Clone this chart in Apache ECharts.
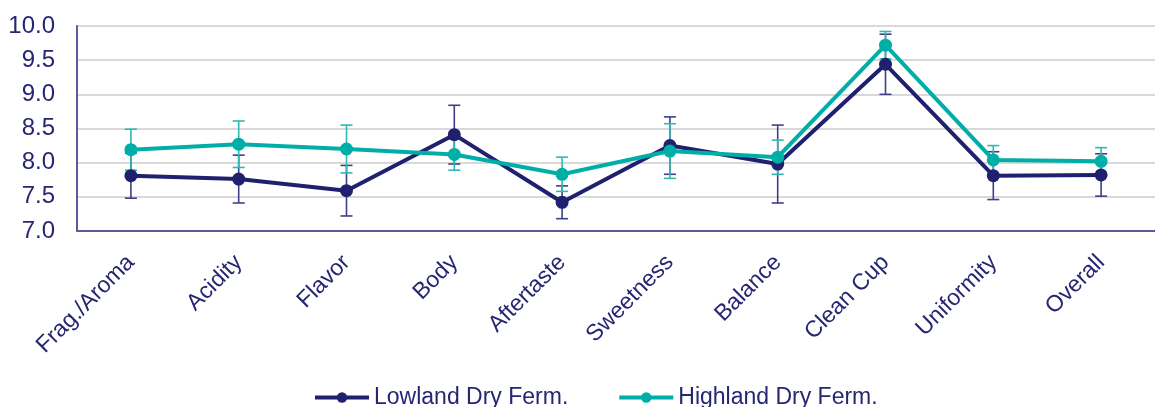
<!DOCTYPE html>
<html>
<head>
<meta charset="utf-8">
<script src="https://cdn.jsdelivr.net/npm/echarts@6/dist/echarts.min.js"></script>
<style>
html,body{margin:0;padding:0;background:#fff;}
#c{width:1155px;height:407px;}
</style>
</head>
<body>
<div id="c"></div>
<script>
var categories = ['Frag./Aroma','Acidity','Flavor','Body','Aftertaste','Sweetness','Balance','Clean Cup','Uniformity','Overall'];
var lowlandMean = [7.81, 7.76, 7.59, 8.41, 7.42, 8.25, 7.98, 9.44, 7.81, 7.82];
var lowlandErr  = [0.33, 0.35, 0.37, 0.43, 0.24, 0.42, 0.57, 0.44, 0.35, 0.31];
var highlandMean = [8.19, 8.27, 8.20, 8.12, 7.83, 8.17, 8.08, 9.72, 8.04, 8.02];
var highlandErr  = [0.30, 0.34, 0.35, 0.23, 0.25, 0.40, 0.25, 0.20, 0.21, 0.20];
var yTicks = [7.0, 7.5, 8.0, 8.5, 9.0, 9.5, 10.0];
var seriesNames = ['Lowland Dry Ferm.', 'Highland Dry Ferm.'];

var NAVY = '#1f216e';
var TEAL = '#00aea8';
var NAVY_ERR = '#3f4085';
var TEAL_ERR = '#2fb9b3';
var TEXT = '#262672';
var FONT = 'Liberation Sans, Arial, sans-serif';

function errData(mean, err){
  return mean.map(function(m,i){ return [i, m - err[i], m + err[i]]; });
}
function errSeries(mean, err, color){
  return {
    type: 'custom',
    z: 1,
    silent: true,
    data: errData(mean, err),
    renderItem: function(params, api){
      var x = api.value(0);
      var lo = api.coord([x, api.value(1)]);
      var hi = api.coord([x, api.value(2)]);
      var hw = 6;
      var st = {stroke: color, lineWidth: 1.6};
      return {
        type: 'group',
        children: [
          {type:'line', shape:{x1:lo[0], y1:lo[1], x2:hi[0], y2:hi[1]}, style: st},
          {type:'line', shape:{x1:lo[0]-hw, y1:lo[1], x2:lo[0]+hw, y2:lo[1]}, style: st},
          {type:'line', shape:{x1:hi[0]-hw, y1:hi[1], x2:hi[0]+hw, y2:hi[1]}, style: st}
        ]
      };
    }
  };
}

var chart = echarts.init(document.getElementById('c'), null, {renderer:'canvas'});
chart.setOption({
  animation: false,
  backgroundColor: '#ffffff',
  textStyle: {fontFamily: FONT},
  grid: {left: 77, right: -11, top: 26, bottom: 176, containLabel: false},
  xAxis: {
    type: 'category',
    data: categories,
    boundaryGap: true,
    axisLine: {show: true, lineStyle: {color: '#5b5c97', width: 2}},
    axisTick: {show: false},
    splitLine: {show: false},
    axisLabel: {
      rotate: 45, margin: 28, color: TEXT, fontSize: 23, interval: 0,
      fontFamily: FONT
    }
  },
  yAxis: {
    type: 'value',
    min: yTicks[0], max: yTicks[yTicks.length-1], interval: 0.5,
    axisLine: {show: true, lineStyle: {color: '#5b5c97', width: 2}},
    axisTick: {show: false},
    splitLine: {show: true, lineStyle: {color: '#d9d9d9', width: 2}},
    axisLabel: {
      margin: 22, color: TEXT, fontSize: 24,
      fontFamily: FONT,
      formatter: function(v){ return v.toFixed(1); }
    }
  },
  legend: {
    data: seriesNames,
    top: 386,
    left: 313,
    padding: 0,
    itemWidth: 54,
    itemHeight: 13,
    itemGap: 49,
    lineStyle: {width: 4},
    textStyle: {color: TEXT, fontSize: 23, fontFamily: FONT, padding: [0,0,0,0]}
  },
  series: [
    errSeries(lowlandMean, lowlandErr, NAVY_ERR),
    errSeries(highlandMean, highlandErr, TEAL_ERR),
    {
      name: seriesNames[0], type: 'line', z: 3,
      data: lowlandMean,
      symbol: 'circle', symbolSize: 13,
      lineStyle: {color: NAVY, width: 4},
      itemStyle: {color: NAVY}
    },
    {
      name: seriesNames[1], type: 'line', z: 4,
      data: highlandMean,
      symbol: 'circle', symbolSize: 13,
      lineStyle: {color: TEAL, width: 4},
      itemStyle: {color: TEAL}
    }
  ]
});
</script>
</body>
</html>
